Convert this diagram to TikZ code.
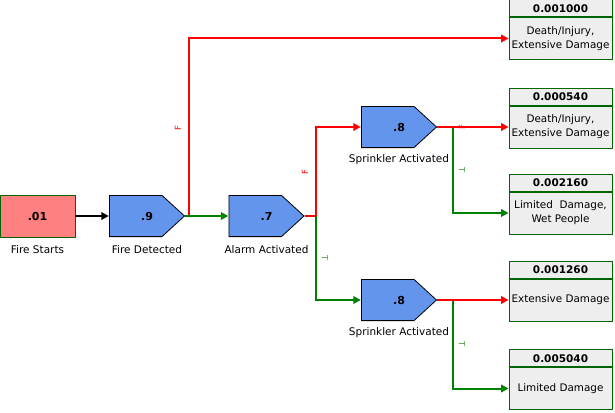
\documentclass[tikz,border=0pt]{standalone}
\usepackage{fontspec}
\setmainfont{DejaVu Sans}
\usetikzlibrary{arrows.meta}
\definecolor{evred}{HTML}{FF0000}
\definecolor{evgreen}{HTML}{008000}
\definecolor{evblue}{HTML}{6495ED}
\definecolor{evpink}{HTML}{FF8080}
\definecolor{evgray}{HTML}{EEEEEE}
\definecolor{evborder}{HTML}{006400}
\begin{document}
\begin{tikzpicture}[x=1pt,y=-1pt,
  gate/.style={rectangle, minimum width=76pt, minimum height=42pt, inner sep=0pt,
    font=\fontsize{11}{13}\selectfont\bfseries,
    path picture={
      \filldraw[fill=evblue, draw=black, line width=0.8pt]
        ([shift={(0.4pt,-0.4pt)}]path picture bounding box.north west)
        -- ([shift={(-23pt,-0.4pt)}]path picture bounding box.north east)
        -- ([shift={(-0.5pt,0pt)}]path picture bounding box.east)
        -- ([shift={(-23pt,0.4pt)}]path picture bounding box.south east)
        -- ([shift={(0.4pt,0.4pt)}]path picture bounding box.south west)
        -- cycle;
    }},
  initbox/.style={rectangle, draw=evborder, fill=evpink, minimum width=75pt, minimum height=42pt,
    inner sep=0pt, line width=0.8pt, font=\fontsize{11}{13}\selectfont\bfseries},
  outhead/.style={rectangle, draw=evborder, fill=evgray, minimum width=103pt, minimum height=17pt,
    inner sep=0pt, line width=0.8pt, font=\fontsize{10.5}{12}\selectfont\bfseries, anchor=south},
  outbody/.style={rectangle, draw=evborder, fill=evgray, minimum width=103pt, minimum height=42pt,
    inner sep=0pt, line width=0.8pt, align=center, font=\fontsize{10.4}{14}\selectfont},
  lab/.style={font=\fontsize{10.5}{12}\selectfont},
  tip/.style={-{Triangle[length=7.5pt,width=7.5pt]}},
  redc/.style={draw=evred, line width=2pt},
  greenc/.style={draw=evgreen, line width=2pt},
  flab/.style={font=\fontsize{8.5}{9}\selectfont, rotate=90, text=evred, inner sep=0pt},
  tlab/.style={font=\fontsize{8.5}{9}\selectfont, rotate=-90, text=evgreen!75!white, inner sep=0pt}
]
\useasboundingbox (0,0) rectangle (615,412);

% event nodes
\node[initbox] (fs) at (37.5,216) {.01};
\node[gate] (fd) at (147,216) {.9};
\node[gate] (ad) at (266.5,216) {.7};
\node[gate] (s1) at (399,127) {.8};
\node[gate] (s2) at (399,300) {.8};

% captions
\node[lab] (fsl) at (37.5,250) {Fire Starts};
\node[lab] (fdl) at (147,250) {Fire Detected};
\node[lab] (adl) at (266.5,250) {Alarm Activated};
\node[lab] (s1l) at (399,160) {Sprinkler Activated};
\node[lab] (s2l) at (399,333) {Sprinkler Activated};

% outcomes
\node[outbody] (o1) at (560.5,38.5) {Death/Injury,\\Extensive Damage};
\node[outhead] (o1h) at (o1.north) {0.001000};
\node[outbody] (o2) at (560.5,127) {Death/Injury,\\Extensive Damage};
\node[outhead] (o2h) at (o2.north) {0.000540};
\node[outbody] (o3) at (560.5,213) {Limited\ \ Damage,\\Wet People};
\node[outhead] (o3h) at (o3.north) {0.002160};
\node[outbody] (o4) at (560.5,300) {Extensive Damage};
\node[outhead] (o4h) at (o4.north) {0.001260};
\node[outbody] (o5) at (560.5,388.5) {Limited Damage};
\node[outhead] (o5h) at (o5.north) {0.005040};

% junction coordinates
\coordinate (j1) at ([xshift=4pt]fd.east);
\coordinate (j2) at ([xshift=11pt]ad.east);
\coordinate (j3) at ([xshift=16pt]s1.east);
\coordinate (j4) at ([xshift=16pt]s2.east);

% connectors
\draw[line width=2pt, tip] (fs.east) -- (fd.west);
\draw[redc, tip] (fd.east) -- (j1) |- (o1.west);
\draw[greenc, tip] (fd.east) -- (ad.west);
\draw[redc, tip] (ad.east) -- (j2) |- (s1.west);
\draw[greenc, tip] (j2) |- (s2.west);
\draw[redc] (ad.east) -- (j2);
\draw[greenc, tip] (j3) |- (o3.west);
\draw[redc, tip] (s1.east) -- (o2.west);
\draw[greenc, tip] (j4) |- (o5.west);
\draw[redc, tip] (s2.east) -- (o4.west);

% branch labels
\node[flab] (f1) at (178,128) {F};
\node[flab] (f2) at (305,172) {F};
\node[tlab] (t2) at (325,258) {T};
\node[flab] (f3) at (462,127) {F};
\node[tlab] (t3) at (462,170) {T};
\node[tlab] (t4) at (462,344) {T};
\end{tikzpicture}
\end{document}
